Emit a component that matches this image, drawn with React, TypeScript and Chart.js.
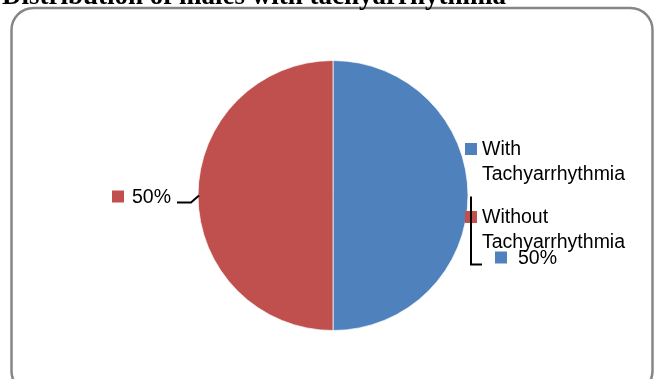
import React, { useEffect, useRef } from "react";
import { Chart, registerables } from "chart.js";

Chart.register(...registerables);

const titleText = "Distribution of males with tachyarrhythmia";
const categories = ["With Tachyarrhythmia", "Without Tachyarrhythmia"];
const legendLines = [["With", "Tachyarrhythmia"], ["Without", "Tachyarrhythmia"]];
const values = [50, 50];
const colors = ["#4F81BD", "#C0504D"];

const FONT = "'Liberation Sans', Arial, sans-serif";

const framePlugin = {
  id: "frame",
  beforeDraw(chart: any) {
    const ctx = chart.ctx;
    ctx.save();
    ctx.fillStyle = "#ffffff";
    ctx.fillRect(0, 0, chart.width, chart.height);
    // rounded border
    const x = 11.5, y = 8, w = 641, h = 385, r = 22;
    ctx.beginPath();
    ctx.moveTo(x + r, y);
    ctx.lineTo(x + w - r, y);
    ctx.arcTo(x + w, y, x + w, y + r, r);
    ctx.lineTo(x + w, y + h - r);
    ctx.arcTo(x + w, y + h, x + w - r, y + h, r);
    ctx.lineTo(x + r, y + h);
    ctx.arcTo(x, y + h, x, y + h - r, r);
    ctx.lineTo(x, y + r);
    ctx.arcTo(x, y, x + r, y, r);
    ctx.closePath();
    ctx.strokeStyle = "#868686";
    ctx.lineWidth = 2.5;
    ctx.stroke();
    // clipped title
    ctx.fillStyle = "#000000";
    ctx.font = "bold 27px 'Liberation Serif', 'Times New Roman', serif";
    ctx.textBaseline = "alphabetic";
    ctx.textAlign = "left";
    ctx.fillText(titleText, 2, 4);
    ctx.restore();
  },
};

const labelPlugin = {
  id: "labels",
  afterDraw(chart: any) {
    const ctx = chart.ctx;
    const meta = chart.getDatasetMeta(0);
    const ds = chart.data.datasets[0];
    const total = ds.data.reduce((a: number, b: number) => a + b, 0);
    ctx.save();
    ctx.font = "19.5px " + FONT;
    ctx.textBaseline = "alphabetic";
    // legend
    const lx = 465, ly = [155, 223];
    chart.data.labels.forEach((_: string, i: number) => {
      ctx.fillStyle = ds.backgroundColor[i];
      ctx.fillRect(lx, ly[i] - 12, 12, 12);
      ctx.fillStyle = "#000000";
      ctx.textAlign = "left";
      legendLines[i].forEach((t, k) => ctx.fillText(t, lx + 17, ly[i] + k * 25));
    });
    // data labels with leader lines
    meta.data.forEach((arc: any, i: number) => {
      const p = arc.getProps(["x", "y", "startAngle", "endAngle", "outerRadius"], true);
      const mid = (p.startAngle + p.endAngle) / 2;
      const ex = p.x + Math.cos(mid) * p.outerRadius;
      const ey = p.y + Math.sin(mid) * p.outerRadius;
      const pct = Math.round((ds.data[i] / total) * 100) + "%";
      ctx.strokeStyle = "#000000";
      ctx.lineWidth = 2;
      ctx.beginPath();
      if (Math.cos(mid) >= 0) {
        ctx.moveTo(ex + 3, ey + 1);
        ctx.lineTo(ex + 3, ey + 69);
        ctx.lineTo(ex + 14, ey + 69);
        ctx.stroke();
        ctx.fillStyle = ds.backgroundColor[i];
        ctx.fillRect(ex + 27, ey + 56, 12, 12);
        ctx.fillStyle = "#000000";
        ctx.textAlign = "left";
        ctx.fillText(pct, ex + 50, ey + 68);
      } else {
        ctx.moveTo(ex + 1, ey);
        ctx.lineTo(ex - 7, ey + 7);
        ctx.lineTo(ex - 21, ey + 7);
        ctx.stroke();
        ctx.fillStyle = ds.backgroundColor[i];
        ctx.fillRect(ex - 86, ey - 5, 12, 12);
        ctx.fillStyle = "#000000";
        ctx.textAlign = "right";
        ctx.fillText(pct, ex - 27, ey + 7);
      }
    });
    ctx.restore();
  },
};

export default function App() {
  const ref = useRef<HTMLCanvasElement>(null);
  useEffect(() => {
    if (!ref.current) return;
    const chart = new Chart(ref.current, {
      type: "pie",
      data: {
        labels: categories,
        datasets: [
          {
            data: values,
            backgroundColor: colors,
            borderColor: "rgba(255,255,255,0.7)",
            borderWidth: 1,
          },
        ],
      },
      options: {
        responsive: false,
        animation: false,
        layout: { padding: { left: 197, right: 185, top: 60, bottom: 48 } },
        plugins: {
          legend: { display: false },
          tooltip: { enabled: false },
          title: { display: false },
        },
      },
      plugins: [framePlugin, labelPlugin],
    });
    return () => chart.destroy();
  }, []);
  return (
    <div style={{ position: "fixed", left: 0, top: 0, width: 654, height: 379 }}>
      <canvas ref={ref} width={654} height={379} style={{ width: 654, height: 379, display: "block" }} />
    </div>
  );
}
